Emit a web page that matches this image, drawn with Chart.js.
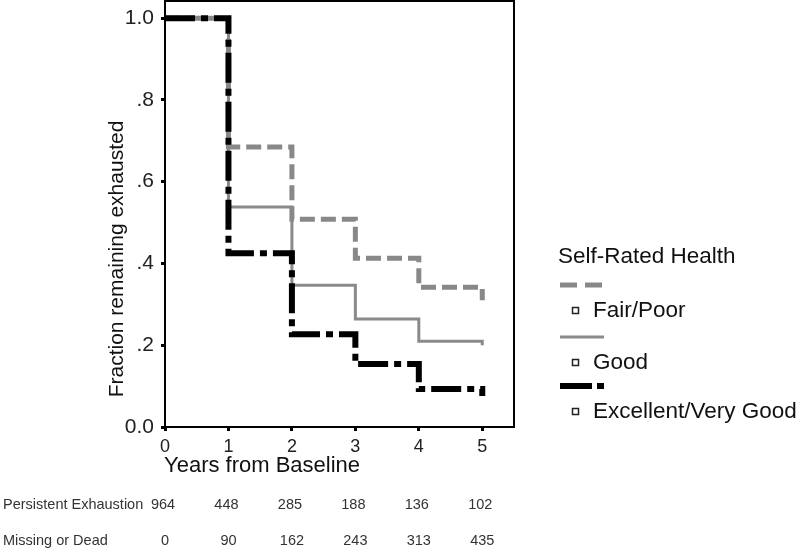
<!DOCTYPE html>
<html>
<head>
<meta charset="utf-8">
<script src="https://cdn.jsdelivr.net/npm/chart.js@4"></script>
<style>
    html, body { margin: 0; padding: 0; background: #fff; }
    #wrap { width: 800px; height: 551px; }
</style>
</head>
<body>
<div id="wrap"><canvas id="kmChart" width="800" height="551"></canvas></div>
<script>
// values
const years = [0, 1, 2, 3, 4, 5];
const fairPoor = [1.0, 0.685, 0.508, 0.413, 0.342, 0.31];
const good = [1.0, 0.538, 0.347, 0.264, 0.21, 0.2];
const excellent = [1.0, 0.425, 0.227, 0.154, 0.093, 0.076];
const yTicks = [0, 0.2, 0.4, 0.6, 0.8, 1.0];
const persistentExhaustion = [964, 448, 285, 188, 136, 102];
const missingOrDead = [0, 90, 162, 243, 313, 435];

const FONT = '"Liberation Sans", Arial, sans-serif';

function toPoints(vals) {
    return years.map((x, i) => ({ x: x, y: vals[i] }));
}

function yLabel(v) {
    if (v === 0) return '0.0';
    if (v === 1) return '1.0';
    return String(Math.round(v * 10) / 10).replace(/^0/, '');
}

const extrasPlugin = {
    id: 'extras',
    beforeDatasetsDraw(chart) {
        const ctx = chart.ctx;
        const a = chart.chartArea;
        ctx.save();
        ctx.strokeStyle = '#000';
        ctx.lineWidth = 2;
        ctx.strokeRect(a.left, a.top, a.right - a.left, a.bottom - a.top);
        ctx.restore();
    },
    afterDraw(chart) {
        const ctx = chart.ctx;
        const xs = chart.scales.x;
        ctx.save();

        // y axis title
        ctx.fillStyle = '#111';
        ctx.font = '21px ' + FONT;
        ctx.textAlign = 'center';
        ctx.textBaseline = 'middle';
        ctx.translate(117, 259);
        ctx.rotate(-Math.PI / 2);
        ctx.fillText('Fraction remaining exhausted', 0, 0);
        ctx.setTransform(1, 0, 0, 1, 0, 0);

        // x axis title
        ctx.textAlign = 'left';
        ctx.font = '22px ' + FONT;
        ctx.fillText('Years from Baseline', 164, 466);

        // numbers at risk table
        ctx.font = '14.5px ' + FONT;
        ctx.fillStyle = '#333';
        ctx.fillText('Persistent Exhaustion', 3, 505);
        ctx.fillText('Missing or Dead', 3, 541);
        ctx.textAlign = 'center';
        years.forEach((yr, i) => {
            const px = xs.getPixelForValue(yr);
            ctx.fillText(String(persistentExhaustion[i]), px - 2, 505);
            ctx.fillText(String(missingOrDead[i]), px, 541);
        });

        // legend
        ctx.textAlign = 'left';
        ctx.fillStyle = '#111';
        ctx.font = '22.5px ' + FONT;
        ctx.fillText('Self-Rated Health', 558, 257);

        const items = [
            { label: 'Fair/Poor', y: 285, color: '#888', width: 5, dash: [17, 8] },
            { label: 'Good', y: 337, color: '#8a8a8a', width: 3, dash: [] },
            { label: 'Excellent/Very Good', y: 386, color: '#000', width: 6, dash: [32, 5, 7, 10] }
        ];
        items.forEach(it => {
            ctx.strokeStyle = it.color;
            ctx.lineWidth = it.width;
            ctx.setLineDash(it.dash);
            ctx.lineCap = 'butt';
            ctx.beginPath();
            ctx.moveTo(560, it.y);
            ctx.lineTo(604, it.y);
            ctx.stroke();
            ctx.setLineDash([]);

            ctx.strokeStyle = '#222';
            ctx.lineWidth = 1.5;
            ctx.strokeRect(572.5, it.y + 22.5, 6, 6);
            ctx.fillStyle = '#111';
            ctx.fillText(it.label, 593, it.y + 26);
        });

        ctx.restore();
    }
};

const ctx = document.getElementById('kmChart').getContext('2d');
new Chart(ctx, {
    type: 'line',
    data: {
        datasets: [
            {
                label: 'Excellent/Very Good',
                data: toPoints(excellent),
                borderColor: '#000',
                borderWidth: 6,
                borderDash: [30, 6, 7, 6],
                order: 0
            },
            {
                label: 'Fair/Poor',
                data: toPoints(fairPoor),
                borderColor: '#888',
                borderWidth: 5,
                borderDash: [15, 6],
                order: 1
            },
            {
                label: 'Good',
                data: toPoints(good),
                borderColor: '#8a8a8a',
                borderWidth: 3,
                order: 2
            }
        ]
    },
    options: {
        responsive: false,
        animation: false,
        layout: { padding: { top: 1, right: 286, bottom: 0, left: 0 } },
        elements: {
            line: { stepped: 'before', fill: false, borderCapStyle: 'butt', borderJoinStyle: 'miter' },
            point: { radius: 0, hoverRadius: 0 }
        },
        plugins: {
            legend: { display: false },
            tooltip: { enabled: false }
        },
        scales: {
            x: {
                type: 'linear',
                min: 0,
                max: 5.5,
                afterBuildTicks: scale => { scale.ticks = years.map(v => ({ value: v })); },
                afterFit: scale => {
                    scale.height = 124;
                    scale.paddingLeft = 0;
                    scale.paddingRight = 0;
                },
                border: { display: true, color: '#000', width: 2 },
                grid: { drawOnChartArea: false, drawTicks: true, tickLength: 4, tickWidth: 3, tickColor: '#000' },
                ticks: { color: '#222', font: { size: 18, family: FONT }, padding: 5, maxRotation: 0 }
            },
            y: {
                type: 'linear',
                min: 0,
                max: 1.042,
                afterBuildTicks: scale => { scale.ticks = yTicks.map(v => ({ value: v })); },
                afterFit: scale => {
                    scale.width = 165;
                    scale.paddingTop = 0;
                    scale.paddingBottom = 0;
                },
                border: { display: true, color: '#000', width: 2 },
                grid: { drawOnChartArea: false, drawTicks: true, tickLength: 4, tickWidth: 3, tickColor: '#000' },
                ticks: { color: '#222', font: { size: 21, family: FONT }, padding: 7, callback: v => yLabel(v) }
            }
        }
    },
    plugins: [extrasPlugin]
});
</script>
</body>
</html>
